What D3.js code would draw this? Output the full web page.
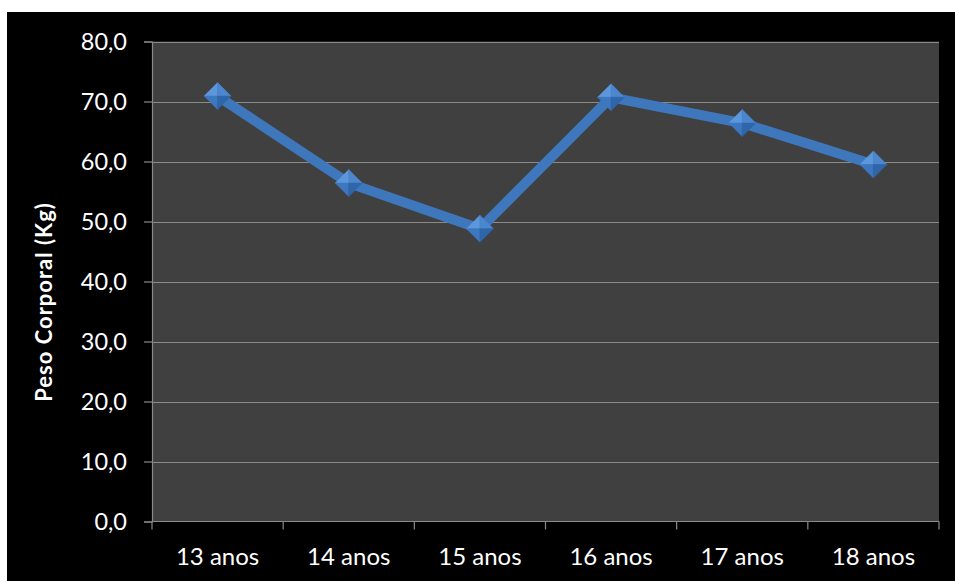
<!DOCTYPE html>
<html>
<head>
<meta charset="utf-8">
<script src="https://cdn.jsdelivr.net/npm/d3@7/dist/d3.min.js"></script>
<style>
  html, body { margin: 0; padding: 0; background: #ffffff; }
  svg { display: block; }
</style>
</head>
<body>
<svg id="chart" width="955" height="581"></svg>
<script>
// Body weight by age
const categories = ["13 anos", "14 anos", "15 anos", "16 anos", "17 anos", "18 anos"];
const weights = [70.9, 56.4, 48.8, 70.7, 66.4, 59.5];
const yTicks = [0, 10, 20, 30, 40, 50, 60, 70, 80];
const yTitle = "Peso Corporal (Kg)";

const svg = d3.select("#chart");
const font = "Lato, 'Open Sans', sans-serif";

// chart background
svg.append("rect").attr("x", 7).attr("y", 12).attr("width", 948).attr("height", 569).attr("fill", "#000");

const plot = { left: 152, right: 939, top: 41.5, bottom: 521.5 };

const x = d3.scaleBand().domain(categories).range([plot.left, plot.right]).padding(0);
const y = d3.scaleLinear().domain([0, 80]).range([plot.bottom, plot.top]);

svg.append("rect")
  .attr("x", plot.left).attr("y", plot.top)
  .attr("width", plot.right - plot.left).attr("height", plot.bottom - plot.top)
  .attr("fill", "#404040");

// horizontal gridlines
svg.append("g").selectAll("line").data(yTicks.filter(d => d > 0)).join("line")
  .attr("x1", plot.left).attr("x2", plot.right)
  .attr("y1", d => Math.round(y(d)) + 0.5).attr("y2", d => Math.round(y(d)) + 0.5)
  .attr("stroke", "#8a8a8a").attr("stroke-width", 1.2);

// y axis
const yAxis = svg.append("g").attr("transform", `translate(${plot.left},0)`)
  .call(d3.axisLeft(y).tickValues(yTicks).tickSize(8).tickPadding(17)
    .tickFormat(d => d3.format(".1f")(d).replace(".", ",")));
yAxis.select(".domain").attr("stroke", "#8a8a8a").attr("stroke-width", 1.2);
yAxis.selectAll(".tick line").attr("stroke", "#8a8a8a").attr("stroke-width", 1.2);
yAxis.selectAll(".tick text").attr("fill", "#ffffff").attr("font-family", font).attr("font-size", 23.5);

// x axis, ticks at category boundaries
const xAxisG = svg.append("g").attr("transform", `translate(0,${plot.bottom})`);
xAxisG.append("line").attr("x1", plot.left).attr("x2", plot.right).attr("y1", 0).attr("y2", 0)
  .attr("stroke", "#8a8a8a").attr("stroke-width", 1.2);
const bounds = categories.map(c => x(c)).concat([plot.right]);
xAxisG.selectAll("line.tk").data(bounds).join("line").attr("class", "tk")
  .attr("x1", d => d).attr("x2", d => d).attr("y1", 0).attr("y2", 8)
  .attr("stroke", "#8a8a8a").attr("stroke-width", 1.2);
xAxisG.selectAll("text").data(categories).join("text")
  .attr("x", d => x(d) + x.bandwidth() / 2).attr("y", 43)
  .attr("text-anchor", "middle").attr("fill", "#ffffff")
  .attr("font-family", font).attr("font-size", 24).text(d => d);

// y title
svg.append("text")
  .attr("transform", "translate(52,302) rotate(-90)")
  .attr("text-anchor", "middle").attr("fill", "#ffffff")
  .attr("font-family", font).attr("font-weight", "bold").attr("font-size", 22)
  .attr("letter-spacing", 1)
  .text(yTitle);

// series line
const pts = categories.map((c, i) => [x(c) + x.bandwidth() / 2, y(weights[i])]);
svg.append("path")
  .attr("d", d3.line()(pts))
  .attr("fill", "none").attr("stroke", "#3f77bd").attr("stroke-width", 10)
  .attr("stroke-linejoin", "round");

// diamond markers with faceted shading
const r = 13.5;
const facets = [
  { pts: (cx, cy) => [[cx, cy - r], [cx - r, cy], [cx, cy]], fill: "#5c97dc" },
  { pts: (cx, cy) => [[cx, cy - r], [cx + r, cy], [cx, cy]], fill: "#4b86cf" },
  { pts: (cx, cy) => [[cx - r, cy], [cx, cy + r], [cx, cy]], fill: "#3d77bf" },
  { pts: (cx, cy) => [[cx + r, cy], [cx, cy + r], [cx, cy]], fill: "#2f66aa" }
];
const markers = svg.append("g").selectAll("g").data(pts).join("g");
facets.forEach(f => {
  markers.append("polygon")
    .attr("points", d => f.pts(d[0], d[1]).map(p => p.join(",")).join(" "))
    .attr("fill", f.fill).attr("stroke", f.fill).attr("stroke-width", 0.5);
});
</script>
</body>
</html>
